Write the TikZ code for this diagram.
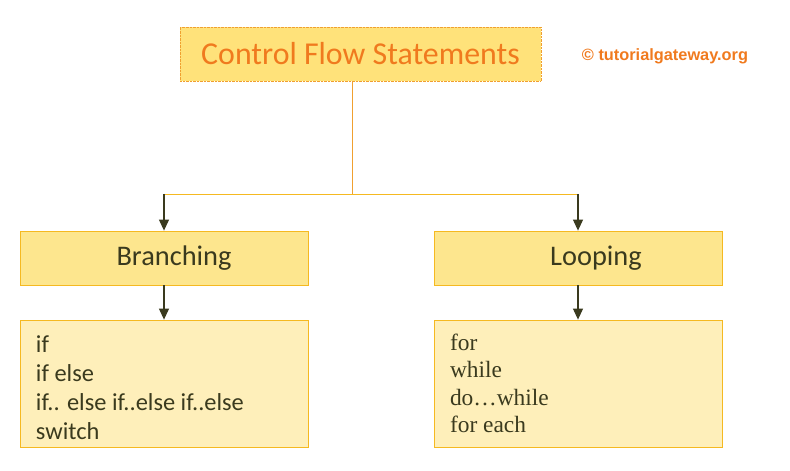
\documentclass[tikz,border=0pt]{standalone}
\usepackage{fontspec}
\setmainfont{Carlito}
\newfontfamily\listserif{Liberation Serif}
\newfontfamily\markfont{Liberation Sans}
\usetikzlibrary{arrows.meta, positioning}
\definecolor{titlefill}{HTML}{FFE27A}
\definecolor{titleline}{HTML}{F0A030}
\definecolor{titletext}{HTML}{F07A1E}
\definecolor{boxfill}{HTML}{FDE68E}
\definecolor{boxline}{HTML}{F5B921}
\definecolor{listfill}{HTML}{FEEFBA}
\definecolor{inkdark}{HTML}{3A3A1E}
\tikzstyle{title} = [draw=titleline, densely dotted, rectangle, fill=titlefill, minimum width=361bp, minimum height=54bp, inner sep=0pt, text=titletext, font=\fontsize{32}{36}\selectfont]
\tikzstyle{category} = [draw=boxline, rectangle, fill=boxfill, minimum width=288bp, minimum height=54bp, inner sep=0pt, line width=0.8pt]
\tikzstyle{listbox} = [draw=boxline, rectangle, fill=listfill, minimum width=288bp, minimum height=127bp, inner xsep=16bp, text width=256bp, align=flush left, text=inkdark, line width=0.8pt]
\tikzstyle{arrow} = [draw=inkdark, line width=1.1pt, -{Triangle[width=10bp,length=11bp]}]
\tikzstyle{trunk} = [draw=boxline, line width=0.9pt]

\begin{document}
\begin{tikzpicture}[x=1bp, y=-1bp]
            \useasboundingbox (0,0) rectangle (790,471);
            % Heading
                  \node (Title) [title] at (360.5,54) {Control Flow Statements};
                  \node (Mark) [text=titletext, font=\markfont\bfseries\fontsize{16.4}{19}\selectfont] at (665,56) {© tutorialgateway.org};

                  % Categories
                  \node (Branching) [category] at (164,258) {};
                  \node (Looping) [category] at (578,258) {};
                  \node (BranchingText) [xshift=10bp, text=inkdark, font=\fontsize{28.5}{32}\selectfont] at (Branching) {Branching};
                  \node (LoopingText) [xshift=18bp, text=inkdark, font=\fontsize{28.5}{32}\selectfont] at (Looping) {Looping};

                  % Statement lists
                  \node (BranchingList) [listbox, font=\fontsize{24.5}{29}\selectfont] at (164,383.5) {\rule{0pt}{25bp}if\\if else\\if.. else if..else if..else\\switch};
                  \node (LoopingList) [listbox, font=\listserif\fontsize{23.5}{27.5}\selectfont] at (578,383.5) {for\\while\\do…while\\for each};

            % Connectors
            \coordinate (Split) at (352,194);
            \draw [trunk, draw=titleline, line width=0.8pt] (Split |- Title.south) -- (Split);
            \draw [trunk] (Branching.north |- Split) -- (Looping.north |- Split);
            \draw [arrow] (Branching.north |- Split) -- (Branching.north);
            \draw [arrow] (Looping.north |- Split) -- (Looping.north);
            \draw [arrow] (Branching.south) -- (BranchingList.north);
            \draw [arrow] (Looping.south) -- (LoopingList.north);
        \end{tikzpicture}
\end{document}
